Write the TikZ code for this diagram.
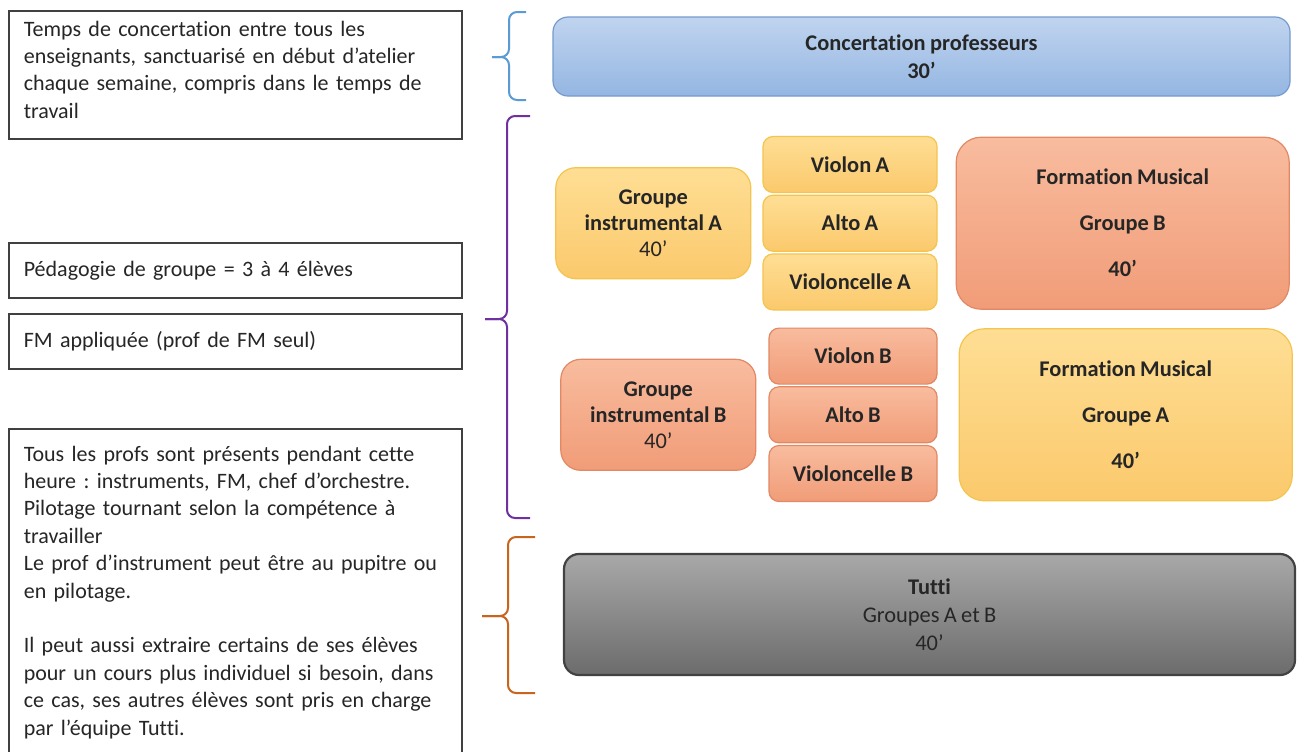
\documentclass[tikz,border=0pt]{standalone}
\usepackage{fontspec}
\setmainfont{Carlito}[Ligatures=NoCommon, WordSpace=0.85]
\usetikzlibrary{positioning}
\frenchspacing

\definecolor{bluetop}{RGB}{192,212,239}
\definecolor{bluebot}{RGB}{148,182,226}
\definecolor{blueline}{RGB}{118,154,205}
\definecolor{yeltop}{RGB}{254,222,148}
\definecolor{yelbot}{RGB}{251,201,108}
\definecolor{yelline}{RGB}{244,196,78}
\definecolor{saltop}{RGB}{248,188,158}
\definecolor{salbot}{RGB}{241,156,120}
\definecolor{salline}{RGB}{226,136,100}
\definecolor{graytop}{RGB}{168,168,168}
\definecolor{graybot}{RGB}{108,108,108}
\definecolor{grayline}{RGB}{66,66,66}
\definecolor{bracblue}{RGB}{91,155,213}
\definecolor{bracpurple}{RGB}{112,48,160}
\definecolor{bracorange}{RGB}{200,100,30}
\definecolor{ink}{RGB}{38,38,38}

\tikzset{
  note/.style={draw=black!75, line width=0.8pt, anchor=north west, align=left,
    text width=211.5pt, inner xsep=7.5pt, inner ysep=2.5pt, text=ink,
    font=\fontsize{11}{13.7}\selectfont},
  slot/.style={draw, line width=0.6pt, align=center, text=ink, inner sep=0pt,
    font=\fontsize{11.2}{13}\selectfont\bfseries},
  yellowslot/.style={slot, draw=yelline, top color=yeltop, bottom color=yelbot},
  salmonslot/.style={slot, draw=salline, top color=saltop, bottom color=salbot},
  instr/.style={minimum width=87pt, minimum height=28pt, rounded corners=5pt},
  grp/.style={minimum width=97.5pt, minimum height=55.5pt, rounded corners=10pt},
  fm/.style={minimum width=166.5pt, minimum height=86pt, rounded corners=12.5pt},
  bracket/.style={line width=1pt, rounded corners=4pt}
}

\begin{document}
\begin{tikzpicture}[x=0.5pt, y=-0.5pt, node distance=0.75pt]
\useasboundingbox[fill=white] (0,0) rectangle (1299,751);

\node[note, inner ysep=5pt, text depth=46.5pt] (temps) at (8,10) {Temps de concertation entre tous les\\
  enseignants, sanctuarisé en début d’atelier\\
  chaque semaine, compris dans le temps de\\
  travail};
\node[note, minimum height=27.5pt] (peda) at (8,242) {Pédagogie de groupe = 3 à 4 élèves};
\node[note, minimum height=27.5pt] (fmapp) at (8,313) {FM appliquée (prof de FM seul)};
\node[note, inner ysep=8.5pt] (tous) at (8,428) {Tous les profs sont présents pendant cette\\
  heure : instruments, FM, chef d’orchestre.\\
  Pilotage tournant selon la compétence à\\
  travailler\\
  Le prof d’instrument peut être au pupitre ou\\
  en pilotage.\\[13.7pt]
  Il peut aussi extraire certains de ses élèves\\
  pour un cours plus individuel si besoin, dans\\
  ce cas, ses autres élèves sont pris en charge\\
  par l’équipe Tutti.};

\draw[bracket, bracblue] (526,12) -- (509,12) -- (509,57) -- (492,57);
\draw[bracket, bracblue] (492,57) -- (509,57) -- (509,100) -- (526,100);
\draw[bracket, bracpurple] (530,116) -- (507,116) -- (507,319) -- (485,319);
\draw[bracket, bracpurple] (485,319) -- (507,319) -- (507,518) -- (530,518);
\draw[bracket, bracorange] (535,537) -- (508,537) -- (508,616) -- (482,616);
\draw[bracket, bracorange] (482,616) -- (508,616) -- (508,693) -- (535,693);

\node[slot, draw=blueline, top color=bluetop, bottom color=bluebot, minimum width=368.5pt,
  minimum height=39.5pt, rounded corners=7.5pt, font=\fontsize{11.2}{14}\selectfont\bfseries]
  (concert) at (921.5,56.5) {Concertation professeurs\\30’};

\node[yellowslot, instr] (violonA) at (850,164.5) {Violon A};
\node[yellowslot, instr, below=of violonA] (altoA) {Alto A};
\node[yellowslot, instr, below=of altoA] (celloA) {Violoncelle A};
\node[yellowslot, grp, left=5.5pt of altoA] (grpA) {Groupe\\instrumental A\\\mdseries 40’};
\node[salmonslot, fm, right=9pt of altoA] (fmB) {Formation Musical\\[10pt]Groupe B\\[10pt]40’};

\node[salmonslot, instr, minimum width=84pt, below=8.5pt of celloA, xshift=1.5pt] (violonB) {Violon B};
\node[salmonslot, instr, minimum width=84pt, below=of violonB] (altoB) {Alto B};
\node[salmonslot, instr, minimum width=84pt, below=of altoB] (celloB) {Violoncelle B};
\node[salmonslot, grp, left=6pt of altoB] (grpB) {Groupe\\instrumental B\\\mdseries 40’};
\node[yellowslot, fm, right=10.5pt of altoB] (fmA) {Formation Musical\\[10pt]Groupe A\\[10pt]40’};

\node[slot, draw=grayline, line width=1.1pt, top color=graytop, bottom color=graybot,
  minimum width=365.5pt, minimum height=60.5pt, rounded corners=7.5pt,
  font=\fontsize{11.2}{14}\selectfont] (tutti) at (929.5,614.5) {\textbf{Tutti}\\Groupes A et B\\40’};
\end{tikzpicture}
\end{document}
